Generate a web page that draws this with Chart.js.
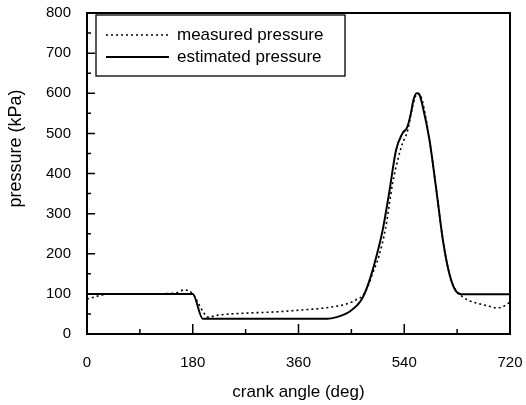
<!DOCTYPE html>
<html>
<head>
<meta charset="utf-8">
<script src="https://cdn.jsdelivr.net/npm/chart.js@4"></script>
<style>
  html, body { margin: 0; padding: 0; background: #fff; }
  #wrap { width: 526px; height: 405px; }
</style>
</head>
<body>
<div id="wrap"><canvas id="myChart" width="526" height="405"></canvas></div>
<script>
// crank angle (deg) -> pressure (kPa)
const measuredAngle = [0, 12, 25, 40, 100, 150, 166, 180, 190, 197, 206, 223, 270, 320, 366, 400, 423, 440, 451, 460, 469, 478, 486, 497, 508, 520, 530, 537, 546, 553, 558, 563, 568, 573, 583, 594, 606, 617, 628, 640, 652, 669, 685, 697, 708, 715, 720];
const measuredPressure = [87, 92, 97, 100, 100, 102, 110, 100, 75, 57, 42, 47, 52, 55, 60, 64, 69, 74, 80, 87, 95, 118, 150, 195, 262, 374, 440, 475, 508, 560, 588, 600, 594, 567, 483, 366, 232, 149, 108, 92, 82, 75, 69, 65, 68, 75, 78];

const estimatedAngle = [0, 100, 180, 197, 300, 409, 425, 440, 449, 460, 469, 480, 492, 503, 514, 526, 537, 545, 551, 556, 561, 566, 571, 583, 594, 606, 617, 628, 640, 660, 720];
const estimatedPressure = [100, 100, 100, 38, 38, 38, 42, 50, 58, 72, 90, 130, 190, 257, 349, 458, 500, 515, 548, 585, 600, 596, 570, 483, 366, 232, 149, 107, 99, 99, 99];

const legendLabels = ['measured pressure', 'estimated pressure'];
const xLabelEvery = 180;
const yLabelEvery = 100;

function toPoints(xs, ys) {
    return xs.map((x, i) => ({ x: x, y: ys[i] }));
}

// plot frame, inward tick marks and the boxed legend
const framePlugin = {
    id: 'frame',
    afterDatasetsDraw(chart) {
        const ctx = chart.ctx;
        const a = chart.chartArea;
        const xs = chart.scales.x;
        const ys = chart.scales.y;
        ctx.save();
        ctx.strokeStyle = '#000';
        ctx.lineWidth = 2;
        ctx.strokeRect(a.left, a.top, a.right - a.left, a.bottom - a.top);

        ctx.lineWidth = 1.5;
        ctx.beginPath();
        for (let v = 90; v < 720; v += 90) {
            const px = xs.getPixelForValue(v);
            const len = v % xLabelEvery == 0 ? 10 : 5;
            ctx.moveTo(px, a.bottom);
            ctx.lineTo(px, a.bottom - len);
        }
        for (let v = 50; v < 800; v += 50) {
            const py = ys.getPixelForValue(v);
            const len = v % yLabelEvery == 0 ? 8 : 4;
            ctx.moveTo(a.left, py);
            ctx.lineTo(a.left + len, py);
        }
        ctx.stroke();

        // legend box
        const bx = 96, by = 15, bw = 249, bh = 61;
        ctx.fillStyle = '#fff';
        ctx.fillRect(bx, by, bw, bh);
        ctx.lineWidth = 1.3;
        ctx.strokeRect(bx, by, bw, bh);
        chart.data.datasets.forEach((ds, i) => {
            const y = by + 20 + i * 22;
            ctx.beginPath();
            ctx.strokeStyle = ds.borderColor;
            ctx.lineWidth = ds.borderWidth;
            ctx.setLineDash(ds.borderDash || []);
            ctx.moveTo(106, y);
            ctx.lineTo(169, y);
            ctx.stroke();
            ctx.setLineDash([]);
            ctx.fillStyle = '#000';
            ctx.font = '17px "Liberation Sans", Arial, sans-serif';
            ctx.textBaseline = 'middle';
            ctx.textAlign = 'left';
            ctx.fillText(legendLabels[i], 177, y);
        });
        ctx.restore();
    }
};

const ctx = document.getElementById('myChart');

new Chart(ctx, {
    type: 'scatter',
    data: {
        datasets: [{
            label: legendLabels[0],
            data: toPoints(measuredAngle, measuredPressure),
            showLine: true,
            borderColor: '#000',
            borderWidth: 1.6,
            borderDash: [2, 3],
            pointRadius: 0,
            cubicInterpolationMode: 'monotone',
            fill: false
        }, {
            label: legendLabels[1],
            data: toPoints(estimatedAngle, estimatedPressure),
            showLine: true,
            borderColor: '#000',
            borderWidth: 2,
            pointRadius: 0,
            cubicInterpolationMode: 'monotone',
            fill: false
        }]
    },
    options: {
        responsive: false,
        animation: false,
        layout: { padding: { top: 13, right: 16, left: 0, bottom: 0 } },
        plugins: {
            legend: { display: false },
            tooltip: { enabled: false }
        },
        scales: {
            x: {
                type: 'linear',
                min: 0,
                max: 720,
                grid: { display: false, drawTicks: false },
                border: { display: false },
                afterFit: function (scale) {
                    scale.height = 71;
                    scale.paddingLeft = 0;
                    scale.paddingRight = 0;
                },
                ticks: {
                    stepSize: 90,
                    padding: 20,
                    color: '#000',
                    font: { family: '"Liberation Sans", Arial, sans-serif', size: 15 },
                    callback: v => (v % xLabelEvery == 0 ? String(v) : '')
                },
                title: {
                    display: true,
                    text: 'crank angle (deg)',
                    color: '#000',
                    font: { family: '"Liberation Sans", Arial, sans-serif', size: 17 },
                    padding: { top: 0, bottom: 2 }
                }
            },
            y: {
                min: 0,
                max: 800,
                grid: { display: false, drawTicks: false },
                border: { display: false },
                afterFit: function (scale) {
                    scale.width = 87;
                    scale.paddingTop = 0;
                    scale.paddingBottom = 0;
                },
                ticks: {
                    stepSize: 50,
                    padding: 16,
                    color: '#000',
                    font: { family: '"Liberation Sans", Arial, sans-serif', size: 15 },
                    callback: v => (v % yLabelEvery == 0 ? String(v) : '')
                },
                title: {
                    display: true,
                    text: '          pressure (kPa)',
                    color: '#000',
                    font: { family: '"Liberation Sans", Arial, sans-serif', size: 18 },
                    padding: { top: 5, bottom: 0 }
                }
            }
        }
    },
    plugins: [framePlugin]
});
</script>
</body>
</html>
